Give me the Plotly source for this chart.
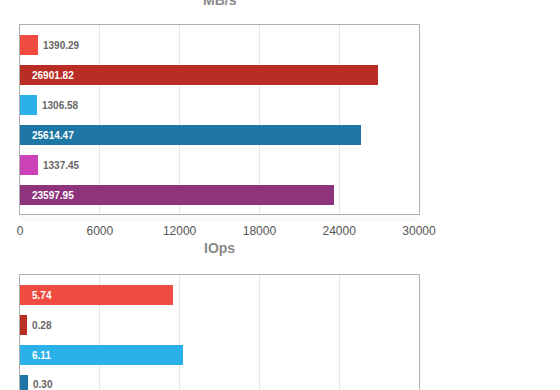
import plotly.graph_objects as go

# ---- data ----
mbs_labels = ["1390.29", "26901.82", "1306.58", "25614.47", "1337.45", "23597.95"]
mbs_values = [1390.29, 26901.82, 1306.58, 25614.47, 1337.45, 23597.95]
iops_labels = ["5.74", "0.28", "6.11", "0.30"]
iops_values = [5.74, 0.28, 6.11, 0.30]
bar_colors = ["#F04B41", "#B92D25", "#2AB1EA", "#1D76A3", "#CB41B8", "#8D347C"]
mbs_ticks = [0, 6000, 12000, 18000, 24000, 30000]
iops_ticks = [0, 3, 6, 9, 12, 15]

W, H = 560, 390
FONT = "Liberation Sans, Arial, Helvetica, sans-serif"

def py(p):  # pixel row -> paper fraction (margins t=b=0)
    return (H - p) / H

fig = go.Figure()

fig.add_trace(go.Bar(
    x=mbs_values, y=list(range(len(mbs_values))), orientation="h",
    marker=dict(color=bar_colors[:len(mbs_values)], line=dict(width=0)),
    width=0.667, xaxis="x", yaxis="y", hoverinfo="x", showlegend=False))

fig.add_trace(go.Bar(
    x=iops_values, y=list(range(len(iops_values))), orientation="h",
    marker=dict(color=bar_colors[:len(iops_values)], line=dict(width=0)),
    width=0.667, xaxis="x2", yaxis="y2", hoverinfo="x", showlegend=False))

annotations = []

def add_labels(vals, labs, xr, yr, axmax):
    for i, (v, t) in enumerate(zip(vals, labs)):
        if v > 0.2 * axmax:
            annotations.append(dict(x=0, y=i, xref=xr, yref=yr, text="<b>%s</b>" % t,
                                    showarrow=False, xanchor="left", xshift=10,
                                    font=dict(family=FONT, size=10, color="#ffffff")))
        else:
            annotations.append(dict(x=v, y=i, xref=xr, yref=yr, text="<b>%s</b>" % t,
                                    showarrow=False, xanchor="left", xshift=3,
                                    font=dict(family=FONT, size=10, color="#666666")))

add_labels(mbs_values, mbs_labels, "x", "y", mbs_ticks[-1])
add_labels(iops_values, iops_labels, "x2", "y2", iops_ticks[-1])

annotations.append(dict(x=0.5, y=1, xref="paper", yref="paper", text="<b>MB/s</b>",
                        showarrow=False, xanchor="center", yanchor="bottom", yshift=-10,
                        font=dict(family=FONT, size=14, color="#8a8a8a")))
annotations.append(dict(x=0.5, y=py(258), xref="paper", yref="paper", text="<b>IOps</b>",
                        showarrow=False, xanchor="center", yanchor="bottom",
                        font=dict(family=FONT, size=14, color="#8a8a8a")))

grid = "#e6e6e6"
frame = "#b0b0b0"

fig.update_layout(
    width=W, height=H,
    margin=dict(l=20, r=141, t=0, b=0, pad=0, autoexpand=False),
    paper_bgcolor="white", plot_bgcolor="white",
    bargap=0,
    annotations=annotations,
    xaxis=dict(domain=[0, 1], anchor="y", range=[0, mbs_ticks[-1]],
               tickvals=mbs_ticks, ticktext=[str(t) for t in mbs_ticks],
               showgrid=True, gridcolor=grid, gridwidth=1, zeroline=False,
               showline=True, linecolor=frame, linewidth=1, mirror=True,
               ticks="", ticklabelstandoff=6,
               tickfont=dict(family=FONT, size=12, color="#555555"),
               fixedrange=True),
    yaxis=dict(domain=[py(214), py(25)], anchor="x", range=[5.633, -0.667],
               showticklabels=False, showgrid=False, zeroline=False,
               showline=True, linecolor=frame, linewidth=1, mirror=True,
               fixedrange=True),
    xaxis2=dict(domain=[0, 1], anchor="y2", range=[0, iops_ticks[-1]],
                tickvals=iops_ticks, showticklabels=False,
                showgrid=True, gridcolor=grid, gridwidth=1, zeroline=False,
                showline=True, linecolor=frame, linewidth=1, mirror=False, side="top",
                ticks="", fixedrange=True),
    yaxis2=dict(domain=[0, py(275)], anchor="x2", range=[3.167, -0.667],
                showticklabels=False, showgrid=False, zeroline=False,
                showline=True, linecolor=frame, linewidth=1, mirror=True,
                fixedrange=True),
    shapes=[dict(type="rect", xref="x domain", yref="paper",
                 x0=0, x1=1, y0=py(222), y1=py(214.5), line=dict(width=0),
                 fillcolor="rgba(0,0,0,0.025)", layer="below")],
)

fig.write_html("out.html", config={"displayModeBar": False},
               post_script="document.body.style.margin='0px';document.body.style.overflow='hidden';")
